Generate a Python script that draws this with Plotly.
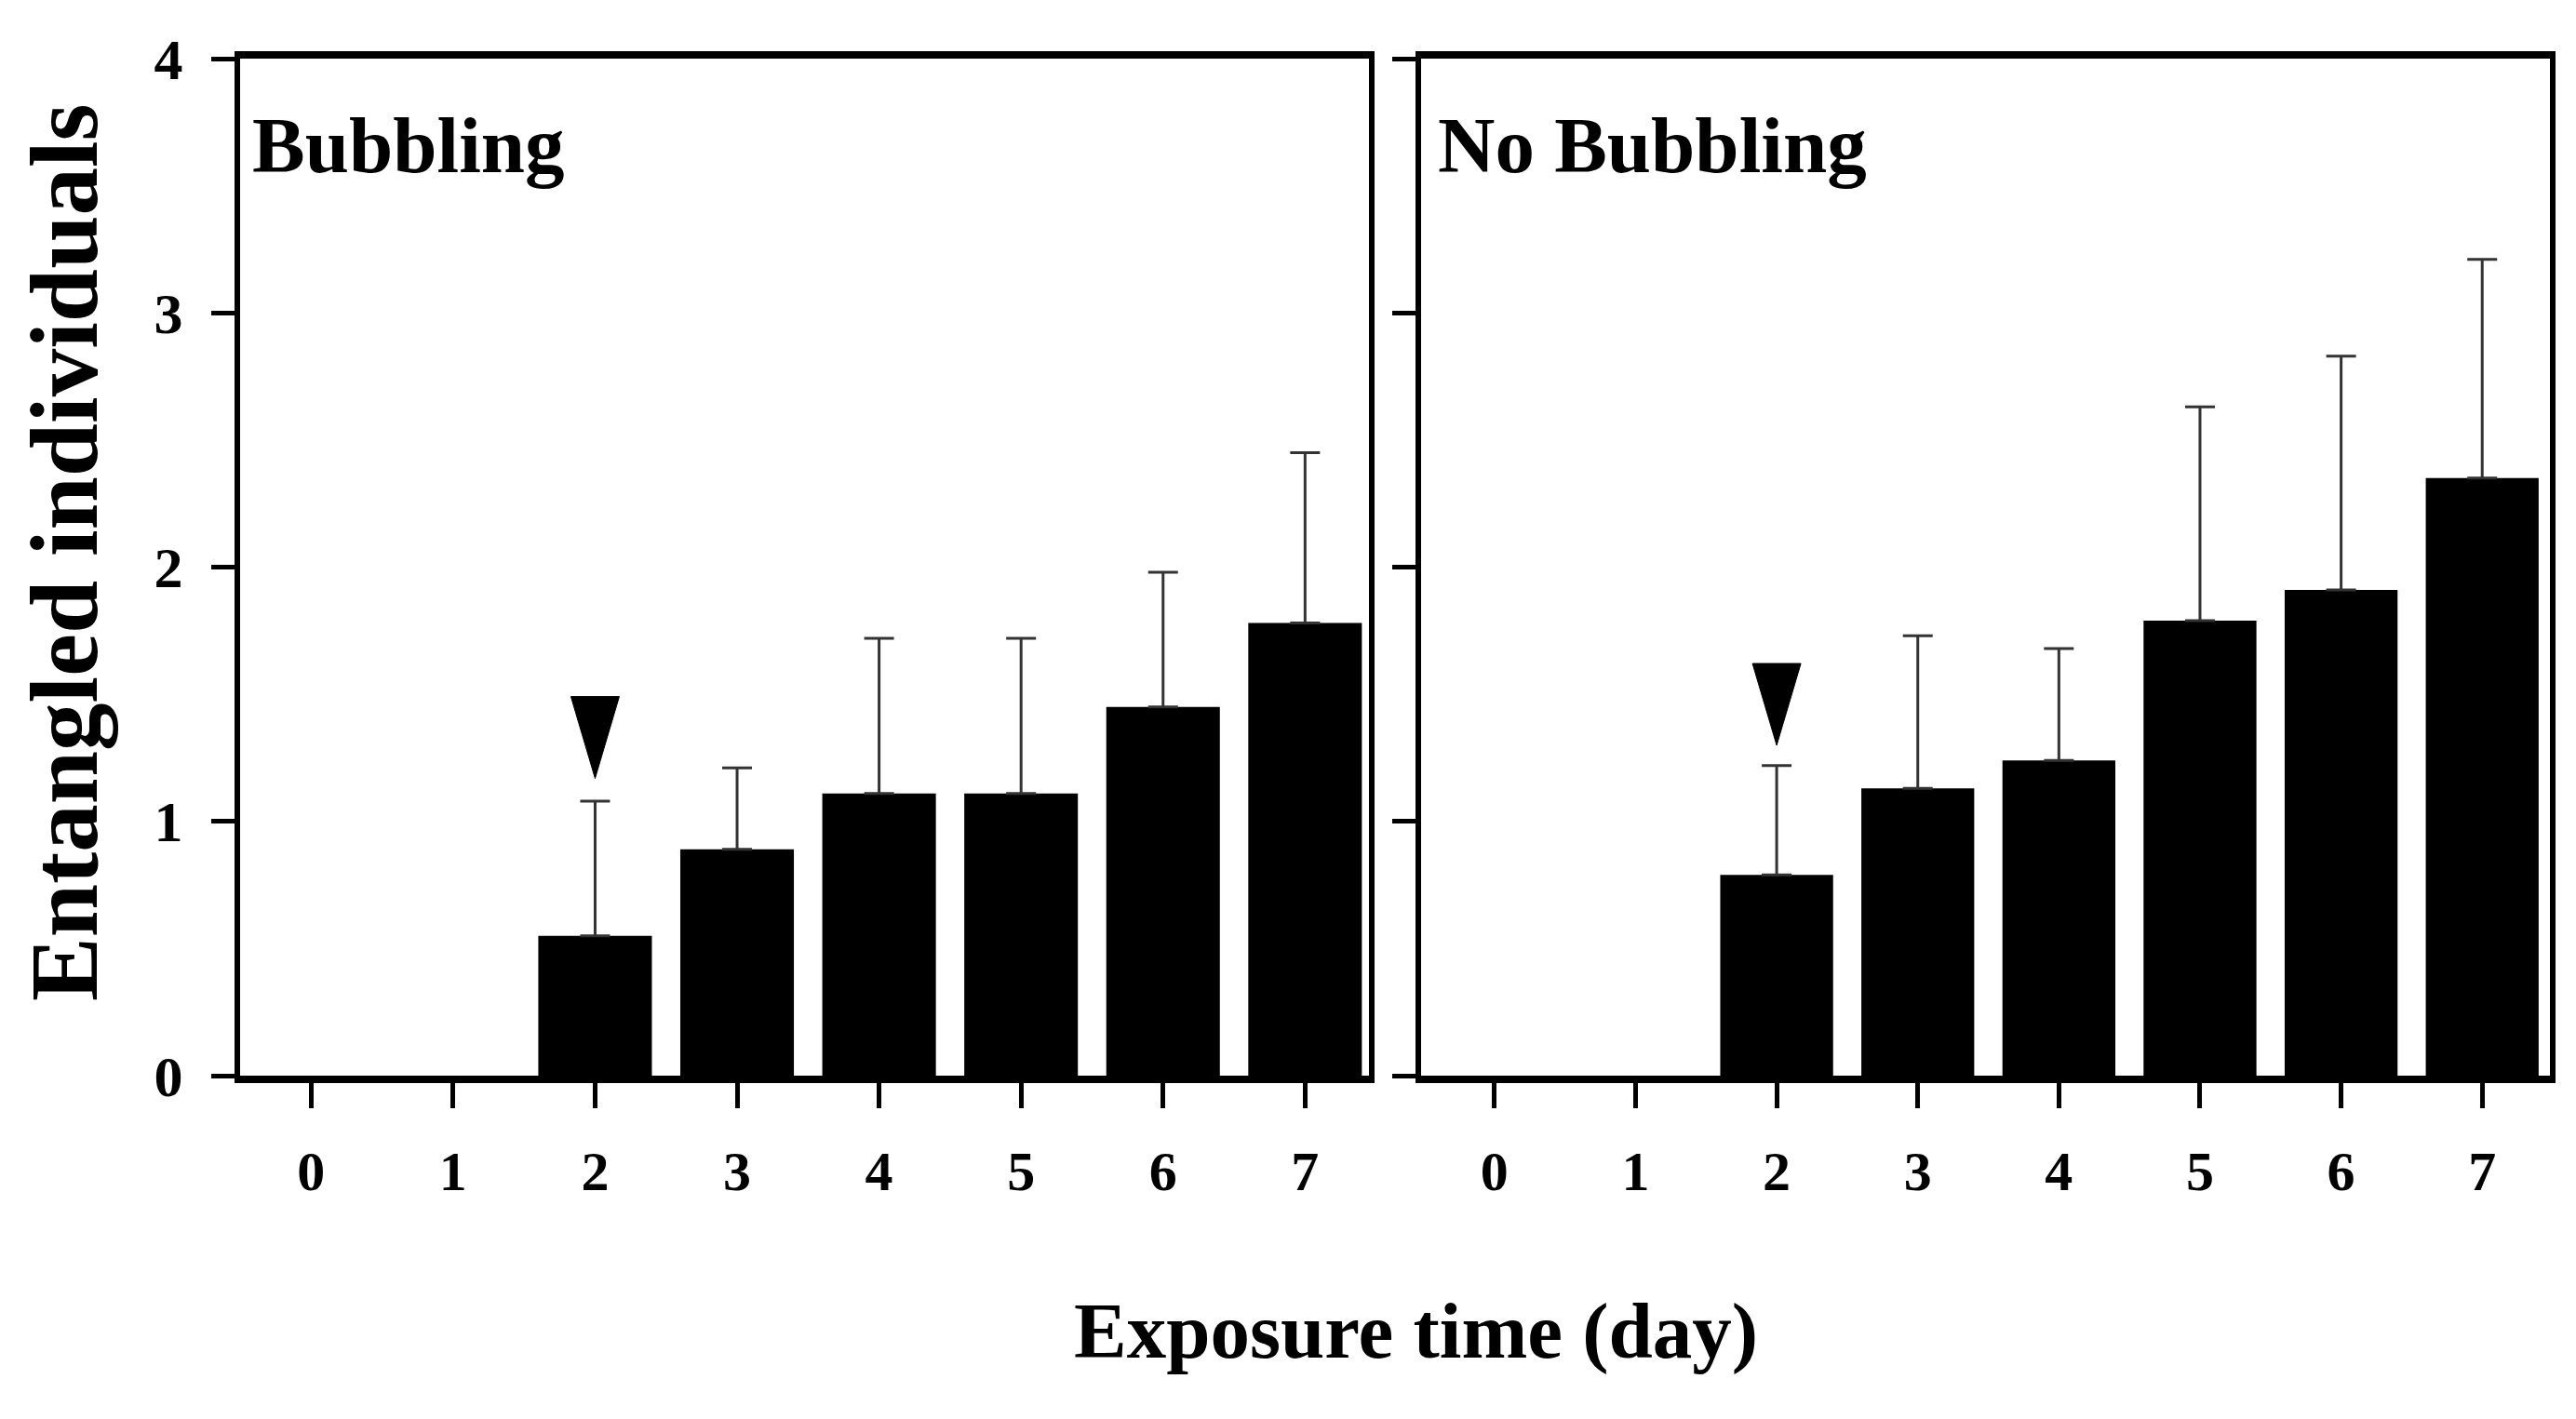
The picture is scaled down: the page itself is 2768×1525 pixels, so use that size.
import math

import plotly.graph_objects as go
import plotly.subplots

# exposure time in days
DAYS = [0, 1, 2, 3, 4, 5, 6, 7]

# mean number of entangled individuals
BUBBLING_MEAN = [0, 0, 0.55, 0.89, 1.11, 1.11, 1.45, 1.78]
BUBBLING_SE = [math.nan, math.nan, 0.53, 0.32, 0.61, 0.61, 0.53, 0.67]

NO_BUBBLING_MEAN = [0, 0, 0.79, 1.13, 1.24, 1.79, 1.91, 2.35]
NO_BUBBLING_SE = [math.nan, math.nan, 0.43, 0.60, 0.44, 0.84, 0.92, 0.86]

# arrowhead marks (day, height) in each panel
BUBBLING_ARROW = (2, 1.33)
NO_BUBBLING_ARROW = (2, 1.46)

Y_TICKS = [0, 1, 2, 3, 4]
PANEL_TITLES = ["Bubbling", "No Bubbling"]

FONT = "Liberation Serif, Times New Roman, serif"
W, H = 2768, 1525


def _bar(means):
    return go.Bar(
        x=DAYS,
        y=means,
        width=0.8,
        marker=dict(color="black", line=dict(width=0)),
        showlegend=False,
    )


def _error_bars(means, se):
    # upper error bars only, and only for days that have one
    keep = [i for i, s in enumerate(se) if not math.isnan(s)]
    return go.Scatter(
        x=[DAYS[i] for i in keep],
        y=[means[i] for i in keep],
        mode="markers",
        marker=dict(size=1, color="rgba(0,0,0,0)"),
        error_y=dict(
            type="data",
            symmetric=False,
            array=[se[i] for i in keep],
            arrayminus=[0] * len(keep),
            color="#333333",
            thickness=3,
            width=16,
        ),
        showlegend=False,
        hoverinfo="skip",
    )


def _arrow_shape(day, value, xref, yref):
    # narrow downward triangle, sized in pixels, anchored at a data point
    return dict(
        type="path",
        xref=xref,
        yref=yref,
        xsizemode="pixel",
        ysizemode="pixel",
        xanchor=day,
        yanchor=value,
        path="M-26,44 L26,44 L0,-44 Z",
        fillcolor="black",
        line=dict(color="black", width=1),
    )


def create_figure() -> go.Figure:
    fig = plotly.subplots.make_subplots(rows=1, cols=2)
    fig.add_trace(_bar(BUBBLING_MEAN), row=1, col=1)
    fig.add_trace(_error_bars(BUBBLING_MEAN, BUBBLING_SE), row=1, col=1)
    fig.add_trace(_bar(NO_BUBBLING_MEAN), row=1, col=2)
    fig.add_trace(_error_bars(NO_BUBBLING_MEAN, NO_BUBBLING_SE), row=1, col=2)

    y_dom = [1 - 1148 / H, 1 - 55 / H]
    common_x = dict(
        tickvals=DAYS,
        ticks="outside",
        ticklen=27,
        tickwidth=5,
        tickcolor="black",
        showline=True,
        linewidth=8,
        linecolor="black",
        mirror=True,
        showgrid=False,
        zeroline=False,
        automargin=False,
        ticklabelstandoff=16,
        tickfont=dict(family=FONT, size=60, color="black", weight="bold"),
    )
    common_y = dict(
        range=[0, 4],
        tickvals=Y_TICKS,
        ticks="outside",
        ticklen=25,
        tickwidth=5,
        tickcolor="black",
        showline=True,
        linewidth=6,
        linecolor="black",
        mirror=True,
        showgrid=False,
        zeroline=False,
        automargin=False,
        domain=y_dom,
        tickfont=dict(family=FONT, size=62, color="black", weight="bold"),
    )
    fig.update_layout(
        xaxis=dict(common_x, range=[-0.5, 7.45], domain=[250 / W, 1463 / W]),
        xaxis2=dict(common_x, range=[-0.52, 7.48], domain=[1519 / W, 2732 / W]),
        yaxis=dict(common_y, ticklabelstandoff=18),
        yaxis2=dict(common_y, showticklabels=False),
    )

    fig.add_shape(_arrow_shape(*BUBBLING_ARROW, "x", "y"))
    fig.add_shape(_arrow_shape(*NO_BUBBLING_ARROW, "x2", "y2"))

    title_font = dict(family=FONT, size=85, color="black", weight="bold")
    for text, x in zip(PANEL_TITLES, [261 / W, 1535 / W]):
        fig.add_annotation(
            text=text, x=x, y=1 - 148 / H, xref="paper", yref="paper",
            xanchor="left", yanchor="middle", showarrow=False, font=title_font,
        )

    fig.add_annotation(
        text="Exposure time (day)", x=1514 / W, y=1 - 1422 / H,
        xref="paper", yref="paper", xanchor="center", yanchor="middle",
        showarrow=False, font=title_font,
    )
    fig.add_annotation(
        text="Entangled individuals", x=61 / W, y=1 - 586 / H,
        xref="paper", yref="paper", xanchor="center", yanchor="middle",
        textangle=-90, showarrow=False,
        font=dict(family=FONT, size=103, color="black", weight="bold"),
    )

    fig.update_layout(
        width=W,
        height=H,
        margin=dict(l=0, r=0, t=0, b=0),
        plot_bgcolor="white",
        paper_bgcolor="white",
        bargap=0.2,
    )
    return fig


fig = create_figure()
fig.write_html("out.html")
